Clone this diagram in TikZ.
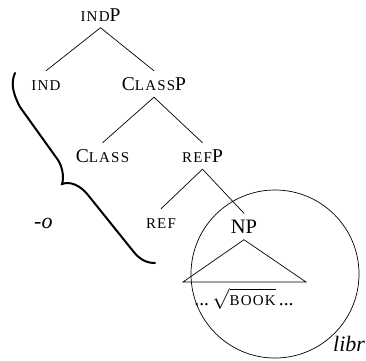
\documentclass[tikz,border=0pt]{standalone}
\usepackage{fontspec}
\setmainfont{Liberation Serif}
\newfontfamily\scfont[LetterSpace=8]{Liberation Serif}
\newcommand\fsc[1]{{\scfont\fontsize{15}{15}\selectfont\MakeUppercase{#1}}}
\begin{document}
\begin{tikzpicture}[x=1pt,y=-1pt,
  lab/.style={anchor=base, inner xsep=0pt, inner ysep=6.5pt, text height=13pt, text depth=0pt, font=\fontsize{19.5}{19.5}\selectfont},
  edge/.style={line width=0.7pt},
  ital/.style={anchor=base west, inner sep=0pt, font=\fontsize{22}{22}\selectfont\itshape}]
\useasboundingbox (0,0) rectangle (366,360);
\node[lab] (indp) at (100.5,21) {\fsc{ind}P};
\node[lab] (ind) at (46,90.5) {\fsc{ind}};
\node[lab] (classp) at (154,90.5) {C\fsc{lass}P};
\node[lab] (class) at (102.5,162.5) {C\fsc{lass}};
\node[lab] (refp) at (202.5,162.5) {\fsc{ref}P};
\node[lab] (ref) at (161,228.5) {\fsc{ref}};
\node[lab, font=\fontsize{20.5}{20.5}\selectfont] (np) at (244,233) {NP};
\node[anchor=base, inner sep=0pt, font=\fontsize{19.5}{19.5}\selectfont] (book) at (244,305) {...\,$\sqrt{\mbox{\fsc{book}}}$\,...};
\coordinate (tl) at (183,282);
\coordinate (tr) at (306,282);
\draw[edge] (indp.south) -- (ind.north);
\draw[edge] (indp.south) -- (classp.north);
\draw[edge] (classp.south) -- (class.north);
\draw[edge] (classp.south) -- (refp.north);
\draw[edge] (refp.south) -- (ref.north);
\draw[edge] (refp.south) -- (np.north);
\draw[edge] (np.south) -- (tl) -- (tr) -- cycle;
\node[draw, circle, line width=0.7pt, minimum size=168pt, inner sep=0pt] (circ) at (275,274) {};
\draw[line width=2pt, line cap=round]
  (15,73) .. controls (11,82) and (12,92) .. (20,107) -- (58,160)
  .. controls (63,168) and (64,178) .. (62,184)
  .. controls (70,181) and (80,185) .. (88,195) -- (133,251)
  .. controls (140,260) and (147,263) .. (155,263);
\node[ital] (o) at (34,228) {-o};
\node[ital] (libr) at (333,351) {libr};
\end{tikzpicture}
\end{document}
